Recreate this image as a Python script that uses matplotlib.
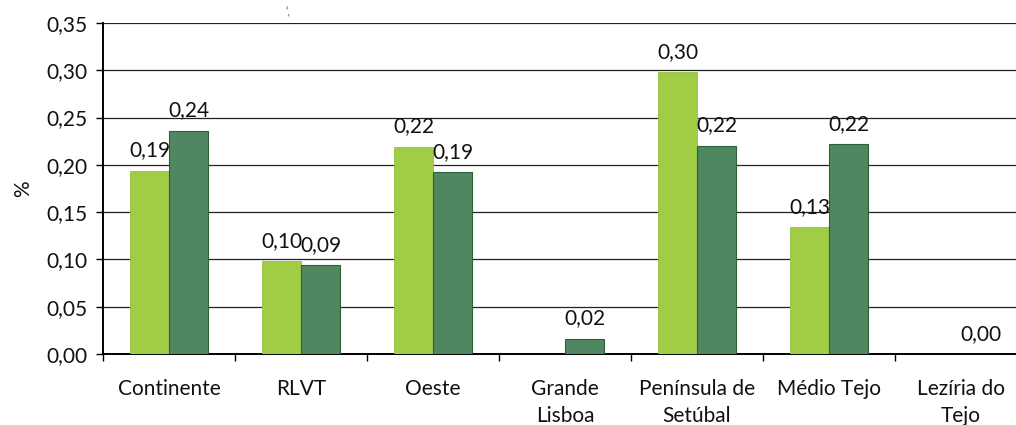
import matplotlib.pyplot as plt
import numpy as np

categories = ["Continente", "RLVT", "Oeste", "Grande\nLisboa",
              "Península de\nSetúbal", "Médio Tejo", "Lezíria do\nTejo"]
serie_a = [0.194, 0.098, 0.219, 0.0, 0.298, 0.134, 0.0]
serie_b = [0.236, 0.094, 0.192, 0.016, 0.220, 0.222, 0.0]
# which bars carry a value label
label_a = [True, True, True, False, True, True, False]
label_b = [True, True, True, True, True, True, True]
yticks = [0.00, 0.05, 0.10, 0.15, 0.20, 0.25, 0.30, 0.35]

light = "#a0cd45"
dark = "#4f8860"

plt.rcParams["font.family"] = ["Lato", "DejaVu Sans"]
fs = 15

fig = plt.figure(figsize=(10.16, 4.25), dpi=100)
ax = fig.add_axes([103 / 1016, 1 - 354 / 425, 924 / 1016, 331 / 425])

x = np.arange(len(categories))
w = 0.295
bars_a = ax.bar(x - w / 2, serie_a, w, color=light, edgecolor="#8fc23a",
                linewidth=0.6, zorder=3)
bars_b = ax.bar(x + w / 2, serie_b, w, color=dark, edgecolor="#2f5f3a",
                linewidth=0.8, zorder=3)

def fmt(v):
    return f"{v:.2f}".replace(".", ",")

for bars, vals, show in ((bars_a, serie_a, label_a), (bars_b, serie_b, label_b)):
    for b, v, s in zip(bars, vals, show):
        if s:
            ax.text(b.get_x() + b.get_width() / 2, v + 0.011, fmt(v),
                    ha="center", va="bottom", fontsize=fs, color="#111111",
                    zorder=4)

ax.set_xlim(-0.5, len(categories) - 0.5)
ax.set_ylim(0, 0.35)
ax.set_yticks(yticks)
ax.set_yticklabels([fmt(t) for t in yticks], fontsize=fs, color="#111111")
ax.yaxis.grid(True, color="#222222", linewidth=0.9, zorder=0)
ax.set_axisbelow(True)

# category boundaries get the tick marks, names sit between them
ax.set_xticks(np.arange(len(categories) + 1) - 0.5)
ax.set_xticklabels([])
ax.set_xticks(x, minor=True)
ax.set_xticklabels(categories, minor=True, fontsize=fs, color="#111111",
                   linespacing=1.45)
ax.tick_params(axis="x", which="minor", length=0, pad=18)
ax.tick_params(axis="x", which="major", length=5, width=1, direction="out")
ax.tick_params(axis="y", length=5, width=1, direction="out", pad=6)

for side in ("top", "right"):
    ax.spines[side].set_visible(False)
ax.spines["left"].set_linewidth(1.4)
ax.spines["bottom"].set_linewidth(1.4)

ax.set_ylabel("%", fontsize=fs, color="#111111", labelpad=10)

fig.text(288 / 1016, 1 - 12 / 425, "‘,", fontsize=8, color="#555555",
         ha="center", va="center")

fig.savefig("out.png", dpi=100)
